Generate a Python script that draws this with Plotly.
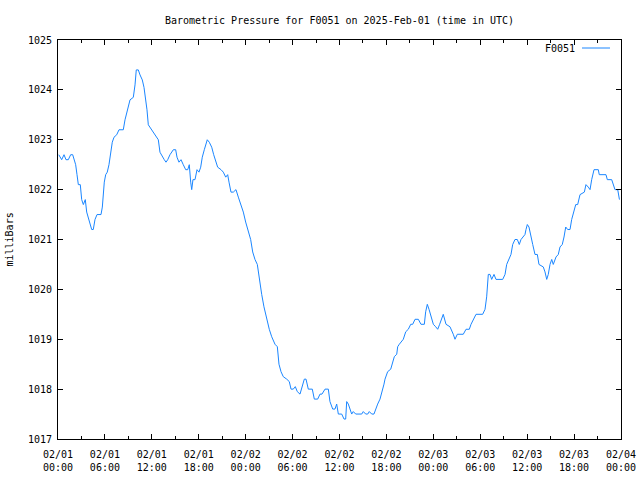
import pandas as pd
import plotly.graph_objects as go

station = "F0051"

hours = [0.1, 0.47, 0.77, 1.02, 1.32, 1.62, 1.88, 2.08, 2.26, 2.43, 2.60, 2.85, 3.03, 3.24, 3.49, 3.67, 3.87,
         4.09, 4.31, 4.51, 4.73, 4.99, 5.50, 5.67, 5.79, 5.92, 6.10, 6.30, 6.52, 6.74, 6.94, 7.16, 7.51, 7.80,
         8.35, 8.57, 8.79, 8.99, 9.21, 9.63, 9.85, 10.01, 10.27, 10.49, 10.78, 11.00, 11.22, 11.38, 11.55,
         11.98, 12.40, 12.83, 13.04, 13.34, 13.59, 13.81, 14.03, 14.32, 14.54, 14.75, 15.05, 15.22, 15.47,
         15.73, 16.02, 16.33, 16.59, 16.79, 16.97, 17.10, 17.26, 17.52, 17.78, 18.03, 18.25, 18.45, 18.71,
         18.93, 19.09, 19.35, 19.66, 19.91, 20.17, 20.42, 20.85, 21.14, 21.45, 21.70, 21.87, 22.12, 22.42,
         22.76, 23.06, 23.40, 23.70, 24.00, 24.34, 24.64, 24.90, 25.19, 25.49, 25.74, 26.05, 26.34, 26.69,
         27.02, 27.33, 27.75, 28.05, 28.26, 28.52, 28.81, 29.25, 29.58, 29.80, 30.09, 30.35, 30.60, 30.95,
         31.24, 31.50, 31.72, 32.01, 32.52, 32.78, 33.21, 33.51, 33.76, 34.15, 34.57, 34.78, 35.13, 35.42,
         35.64, 35.85, 36.28, 36.58, 36.79, 36.92, 37.13, 37.34, 37.56, 37.76, 38.07, 38.84, 39.04, 39.35,
         39.61, 39.81, 40.12, 40.41, 40.63, 40.88, 41.18, 41.47, 41.69, 41.82, 42.16, 42.55, 42.75, 43.01,
         43.32, 43.44, 43.65, 43.95, 44.16, 44.47, 44.80, 45.11, 45.36, 45.66, 46.08, 46.42, 46.85, 47.02,
         47.23, 47.45, 47.70, 48.00, 48.30, 48.56, 48.81, 49.07, 49.27, 49.62, 50.13, 50.55, 50.77, 51.07,
         51.83, 52.18, 52.60, 52.82, 53.11, 53.46, 54.31, 54.61, 54.82, 55.03, 55.25, 55.46, 55.76, 56.01,
         56.87, 57.17, 57.38, 57.68, 57.93, 58.15, 58.44, 58.74, 58.99, 59.21, 59.51, 59.72, 59.85, 60.02,
         60.23, 60.45, 60.71, 61.00, 61.30, 61.51, 62.06, 62.28, 62.50, 62.70, 62.92, 63.14, 63.34, 63.69,
         63.98, 64.20, 64.49, 64.71, 64.93, 65.18, 65.48, 65.69, 65.99, 66.21, 66.46, 66.76, 67.31, 67.52,
         67.82, 68.04, 68.25, 68.55, 69.10, 69.22, 70.08, 70.25, 70.81, 71.02, 71.23, 71.58, 71.80]

pressure = [1022.7, 1022.6, 1022.7, 1022.6, 1022.6, 1022.7, 1022.7, 1022.6, 1022.5, 1022.3, 1022.1, 1022.1,
            1021.8, 1021.7, 1021.8, 1021.55, 1021.45, 1021.3, 1021.2, 1021.2, 1021.4, 1021.5, 1021.5, 1021.65,
            1021.95, 1022.15, 1022.3, 1022.35, 1022.5, 1022.7, 1022.95, 1023.05, 1023.1, 1023.2, 1023.2,
            1023.4, 1023.55, 1023.65, 1023.8, 1023.85, 1024.1, 1024.4, 1024.4, 1024.3, 1024.2, 1024.05,
            1023.8, 1023.6, 1023.3, 1023.2, 1023.1, 1023.0, 1022.75, 1022.65, 1022.6, 1022.55, 1022.6,
            1022.7, 1022.75, 1022.8, 1022.8, 1022.65, 1022.55, 1022.6, 1022.5, 1022.4, 1022.4, 1022.5,
            1022.15, 1022.0, 1022.2, 1022.2, 1022.4, 1022.35, 1022.45, 1022.65, 1022.8, 1022.95, 1023.0,
            1022.95, 1022.85, 1022.7, 1022.55, 1022.45, 1022.4, 1022.35, 1022.25, 1022.3, 1022.15, 1021.95,
            1021.95, 1022.0, 1021.85, 1021.7, 1021.55, 1021.35, 1021.15, 1021.0, 1020.75, 1020.6, 1020.5,
            1020.2, 1019.9, 1019.65, 1019.4, 1019.2, 1019.05, 1018.9, 1018.85, 1018.5, 1018.35, 1018.25,
            1018.2, 1018.15, 1018.0, 1018.0, 1018.05, 1017.95, 1017.9, 1018.05, 1018.2, 1018.2, 1018.0,
            1018.0, 1017.8, 1017.8, 1017.9, 1017.9, 1018.0, 1018.0, 1017.75, 1017.6, 1017.6, 1017.7, 1017.5,
            1017.5, 1017.4, 1017.4, 1017.75, 1017.7, 1017.6, 1017.5, 1017.55, 1017.5, 1017.5, 1017.55,
            1017.5, 1017.5, 1017.55, 1017.5, 1017.5, 1017.6, 1017.7, 1017.8, 1017.95, 1018.1, 1018.2,
            1018.35, 1018.4, 1018.5, 1018.65, 1018.7, 1018.85, 1018.9, 1018.95, 1019.0, 1019.15, 1019.2,
            1019.3, 1019.3, 1019.4, 1019.4, 1019.3, 1019.3, 1019.55, 1019.7, 1019.6, 1019.45, 1019.3,
            1019.25, 1019.2, 1019.3, 1019.4, 1019.5, 1019.3, 1019.25, 1019.1, 1019.0, 1019.1, 1019.1,
            1019.2, 1019.2, 1019.3, 1019.4, 1019.5, 1019.5, 1019.6, 1019.85, 1020.3, 1020.3, 1020.2,
            1020.3, 1020.2, 1020.2, 1020.3, 1020.5, 1020.6, 1020.7, 1020.9, 1021.0, 1021.0, 1020.9, 1021.0,
            1021.05, 1021.1, 1021.2, 1021.3, 1021.25, 1021.05, 1020.9, 1020.7, 1020.7, 1020.5, 1020.45,
            1020.35, 1020.2, 1020.3, 1020.5, 1020.6, 1020.5, 1020.65, 1020.7, 1020.85, 1020.9, 1021.05,
            1021.25, 1021.2, 1021.2, 1021.4, 1021.6, 1021.7, 1021.7, 1021.9, 1021.95, 1022.1, 1022.05,
            1022.0, 1022.2, 1022.4, 1022.4, 1022.3, 1022.3, 1022.2, 1022.2, 1022.1, 1022.0, 1022.0, 1021.8]

tick_hours = [0, 6, 12, 18, 24, 30, 36, 42, 48, 54, 60, 66, 72]
tick_labels = ["02/01<br>00:00", "02/01<br>06:00", "02/01<br>12:00", "02/01<br>18:00",
               "02/02<br>00:00", "02/02<br>06:00", "02/02<br>12:00", "02/02<br>18:00",
               "02/03<br>00:00", "02/03<br>06:00", "02/03<br>12:00", "02/03<br>18:00",
               "02/04<br>00:00"]
minor_hours = [3, 9, 15, 21, 27, 33, 39, 45, 51, 57, 63, 69]
y_ticks = [1017, 1018, 1019, 1020, 1021, 1022, 1023, 1024, 1025]

FONT = "DejaVu Sans Mono"
LINE_COLOR = "#1a86ff"

fig = go.Figure()
fig.add_trace(go.Scatter(x=hours, y=pressure, mode="lines", name=station,
                         line=dict(color=LINE_COLOR, width=1), showlegend=False))

fig.update_layout(
    width=640, height=480,
    margin=dict(l=58, r=19, t=40, b=41),
    paper_bgcolor="white", plot_bgcolor="white",
    font=dict(family=FONT, size=10, color="black"),
    title=dict(text="Barometric Pressure for F0051 on 2025-Feb-01 (time in UTC)",
               x=0.5, xref="paper", xanchor="center",
               y=1 - 20 / 480, yref="container", yanchor="middle",
               font=dict(family=FONT, size=10, color="black")),
)

fig.update_xaxes(
    range=[0, 72], tickmode="array", tickvals=tick_hours, ticktext=tick_labels,
    automargin=False,
    showgrid=False, zeroline=False, showline=True, linecolor="black", linewidth=1,
    mirror="ticks", ticks="inside", ticklen=5, tickcolor="black", tickwidth=1,
    ticklabelstandoff=6,
    minor=dict(tickmode="array", tickvals=minor_hours, ticks="inside", ticklen=3,
               tickcolor="black", showgrid=False),
)
fig.update_yaxes(
    range=[1017, 1025], tickmode="array", tickvals=y_ticks, ticktext=[str(v) for v in y_ticks],
    automargin=False,
    showgrid=False, zeroline=False, showline=True, linecolor="black", linewidth=1,
    mirror="ticks", ticks="inside", ticklen=5, tickcolor="black", tickwidth=1,
    ticklabelstandoff=3,
)

fig.add_annotation(text="milliBars", textangle=-90, xref="paper", yref="paper",
                   x=-49 / 563, y=0.5, xanchor="center", yanchor="middle", showarrow=False,
                   font=dict(family=FONT, size=10, color="black"))

# legend key (gnuplot style: text then line sample)
fig.add_annotation(text=station, xref="paper", yref="paper", x=(577 - 58) / 563, y=(439 - 48) / 399,
                   xanchor="right", yanchor="middle", showarrow=False,
                   font=dict(family=FONT, size=10, color="black"))
fig.add_shape(type="line", xref="paper", yref="paper", x0=(582 - 58) / 563, x1=(610 - 58) / 563,
              y0=(439 - 48) / 399, y1=(439 - 48) / 399, line=dict(color=LINE_COLOR, width=1))

fig.write_html("out.html")
